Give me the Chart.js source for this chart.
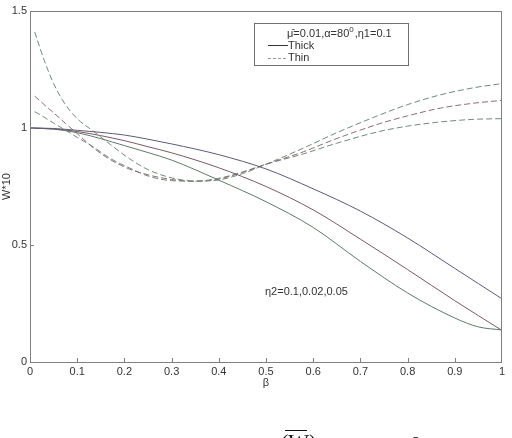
<!DOCTYPE html>
<html>
<head>
<meta charset="utf-8">
<script src="https://cdn.jsdelivr.net/npm/chart.js@4.4.1/dist/chart.umd.min.js"></script>
<style>
  html, body { margin: 0; padding: 0; background: #fff; }
  #wrap { width: 512px; height: 438px; position: relative; }
</style>
</head>
<body>
<div id="wrap"><canvas id="chart"></canvas></div>
<script>
// beta sample points
const betaThick = [0, 0.05, 0.1, 0.2, 0.25, 0.3, 0.4, 0.5, 0.6, 0.7, 0.8, 0.9, 0.95, 1.0];
const betaThin = [0.01, 0.03, 0.05, 0.075, 0.1, 0.135, 0.17, 0.21, 0.25, 0.3, 0.35, 0.4, 0.45, 0.5, 0.58, 0.65, 0.74, 0.8, 0.87, 0.94, 1.0];

// thick theory (solid)
const thickA = [1.0, 0.998, 0.99, 0.97, 0.952, 0.932, 0.886, 0.825, 0.74, 0.645, 0.53, 0.4, 0.335, 0.27];
const thickB = [1.0, 0.996, 0.985, 0.946, 0.92, 0.894, 0.83, 0.75, 0.65, 0.525, 0.395, 0.262, 0.198, 0.135];
const thickC = [1.0, 0.995, 0.98, 0.925, 0.895, 0.863, 0.777, 0.685, 0.575, 0.43, 0.295, 0.188, 0.15, 0.137];

// thin theory (dashed)
const thinA = [1.41, 1.29, 1.19, 1.10, 1.04, 0.985, 0.93, 0.87, 0.822, 0.787, 0.773, 0.778, 0.805, 0.845, 0.915, 0.98, 1.055, 1.10, 1.142, 1.172, 1.19];
const thinB = [1.136, 1.10, 1.065, 1.02, 0.976, 0.914, 0.865, 0.825, 0.80, 0.78, 0.772, 0.782, 0.81, 0.845, 0.899, 0.955, 1.018, 1.052, 1.085, 1.106, 1.118];
const thinC = [1.07, 1.046, 1.021, 0.991, 0.96, 0.918, 0.87, 0.83, 0.795, 0.775, 0.773, 0.785, 0.812, 0.845, 0.89, 0.935, 0.985, 1.008, 1.026, 1.037, 1.04];

const xTicks = [0, 0.1, 0.2, 0.3, 0.4, 0.5, 0.6, 0.7, 0.8, 0.9, 1];
const yTicks = [0, 0.5, 1, 1.5];

const FONT = "Liberation Sans, Arial, sans-serif";

function pts(xs, ys) {
  return xs.map((x, i) => ({ x, y: ys[i] }));
}

function lineSet(xs, ys, color, dashed) {
  return {
    data: pts(xs, ys),
    borderColor: color,
    borderWidth: 1,
    borderDash: dashed ? [6, 3] : [],
    pointRadius: 0,
    fill: false,
    cubicInterpolationMode: "monotone",
  };
}

// box, inner ticks, legend, labels, cut caption
const decor = {
  id: "decor",
  afterDraw(chart) {
    const { ctx, chartArea: a, scales } = chart;
    ctx.save();
    ctx.strokeStyle = "#808080";
    ctx.lineWidth = 1;
    ctx.setLineDash([]);
    ctx.strokeRect(a.left + 0.5, a.top + 0.5, a.right - a.left - 1, a.bottom - a.top);

    ctx.beginPath();
    xTicks.slice(1, -1).forEach((v) => {
      const x = Math.round(scales.x.getPixelForValue(v)) + 0.5;
      ctx.moveTo(x, a.bottom);
      ctx.lineTo(x, a.bottom - 4);
    });
    yTicks.slice(1).forEach((v) => {
      const y = Math.round(scales.y.getPixelForValue(v)) + 0.5;
      ctx.moveTo(a.left, y);
      ctx.lineTo(a.left + 4, y);
    });
    ctx.stroke();

    // axis titles
    ctx.fillStyle = "#333";
    ctx.font = "11px " + FONT;
    ctx.textAlign = "center";
    ctx.textBaseline = "middle";
    ctx.fillText("β", (a.left + a.right) / 2, 383);
    ctx.save();
    ctx.translate(7, (a.top + a.bottom) / 2);
    ctx.rotate(-Math.PI / 2);
    ctx.fillText("W*10", 0, 0);
    ctx.restore();

    // legend box
    ctx.fillStyle = "#fff";
    ctx.fillRect(254, 23, 154, 42);
    ctx.strokeStyle = "#707070";
    ctx.strokeRect(254.5, 23.5, 154, 42);
    ctx.fillStyle = "#333";
    ctx.textAlign = "left";
    ctx.fillText("μ̄=0.01,α=80", 287, 34);
    let w = ctx.measureText("μ̄=0.01,α=80").width;
    ctx.font = "8px " + FONT;
    ctx.fillText("0", 287 + w, 30);
    let w2 = ctx.measureText("0").width;
    ctx.font = "11px " + FONT;
    ctx.fillText(",η1=0.1", 287 + w + w2 + 1, 34);
    ctx.fillText("Thick", 288, 46);
    ctx.fillText("Thin", 288, 58);
    ctx.strokeStyle = "#333";
    ctx.beginPath();
    ctx.moveTo(268, 45.5);
    ctx.lineTo(288, 45.5);
    ctx.stroke();
    ctx.strokeStyle = "#999";
    ctx.setLineDash([3, 2]);
    ctx.beginPath();
    ctx.moveTo(268, 58.5);
    ctx.lineTo(286, 58.5);
    ctx.stroke();
    ctx.setLineDash([]);

    // annotation
    ctx.fillStyle = "#333";
    ctx.fillText("η2=0.1,0.02,0.05", 265, 292);

    // caption below the figure (cut by the page edge)
    ctx.fillStyle = "#111";
    ctx.font = "22px Liberation Serif, Times New Roman, serif";
    ctx.textBaseline = "alphabetic";
    ctx.fillText("(W)", 281, 449);
    ctx.fillText("β", 410, 452);
    ctx.strokeStyle = "#111";
    ctx.beginPath();
    ctx.moveTo(285, 430.5);
    ctx.lineTo(307, 430.5);
    ctx.stroke();
    ctx.restore();
  },
};

new Chart(document.getElementById("chart"), {
  type: "line",
  data: {
    datasets: [
      lineSet(betaThick, thickA, "#5c5a78", false),
      lineSet(betaThick, thickB, "#7a5862", false),
      lineSet(betaThick, thickC, "#5f7a68", false),
      lineSet(betaThin, thinA, "#6f8a78", true),
      lineSet(betaThin, thinB, "#8c6c72", true),
      lineSet(betaThin, thinC, "#6f8a7c", true),
    ],
  },
  options: {
    responsive: true,
    maintainAspectRatio: false,
    animation: false,
    events: [],
    layout: { padding: { left: 0, right: 10, top: 11, bottom: 44 } },
    plugins: { legend: { display: false }, tooltip: { enabled: false } },
    scales: {
      x: {
        type: "linear",
        min: 0,
        max: 1,
        afterFit: (s) => { s.height = 32; },
        afterBuildTicks: (s) => { s.ticks = xTicks.map((v) => ({ value: v })); },
        grid: { display: false, drawTicks: false },
        border: { display: false },
        ticks: {
          padding: 3,
          color: "#333",
          font: { family: FONT, size: 11 },
          maxRotation: 0,
          callback: (v) => String(+v.toFixed(1)),
        },
      },
      y: {
        type: "linear",
        min: 0,
        max: 1.5,
        afterFit: (s) => { s.width = 30; },
        afterBuildTicks: (s) => { s.ticks = yTicks.map((v) => ({ value: v })); },
        grid: { display: false, drawTicks: false },
        border: { display: false },
        ticks: {
          padding: 3,
          color: "#333",
          font: { family: FONT, size: 11 },
          callback: (v) => String(+v.toFixed(1)),
        },
      },
    },
  },
  plugins: [decor],
});
</script>
</body>
</html>
